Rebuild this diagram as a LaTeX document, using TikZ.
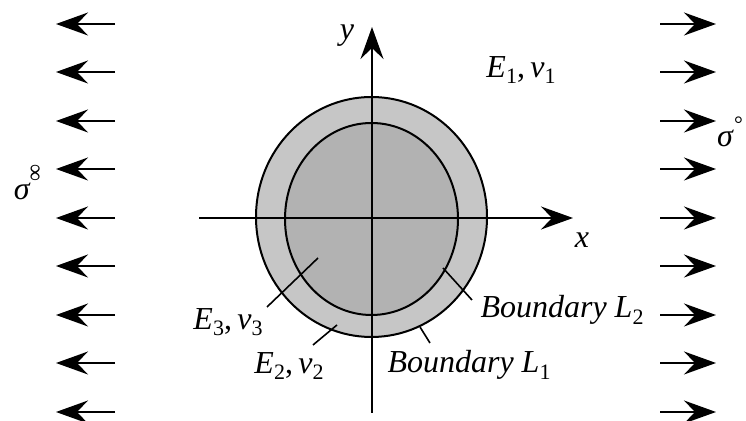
\documentclass[tikz,border=0pt]{standalone}
\usepackage{fontspec}
\setmainfont{Liberation Serif}
\usetikzlibrary{arrows.meta,shapes.geometric}
\newcommand\mysub[1]{\raisebox{-0.45ex}{\fontsize{11}{11}\selectfont\upshape #1}}
\newcommand\mysup[1]{\raisebox{1.0ex}{\fontsize{11}{11}\selectfont\upshape #1}}
\definecolor{ringgray}{HTML}{C6C6C6}
\definecolor{coregray}{HTML}{B2B2B2}
\tikzset{
  tip/.tip={Stealth[length=16pt,width=11.5pt,inset=5.5pt]},
  loadarrow/.style={line width=0.8pt,-tip},
  axisline/.style={line width=1pt,-tip},
  leader/.style={line width=0.8pt},
  lbl/.style={inner sep=1pt},
}
\begin{document}
\begin{tikzpicture}[x=0.5pt,y=-0.5pt,font=\fontsize{16}{19}\selectfont]
\useasboundingbox (0,0) rectangle (746,421);
% inclusions
\node[ellipse,draw,line width=1pt,fill=ringgray,minimum width=115.5pt,minimum height=120pt,inner sep=0pt] (outer) at (371.5,217) {};
\node[ellipse,draw,line width=1pt,fill=coregray,minimum width=86.5pt,minimum height=96pt,inner sep=0pt] (inner) at (371.5,219) {};
% axes
\coordinate (xs) at (199,218); \coordinate (xe) at (573,218);
\coordinate (ys) at (372,413); \coordinate (ye) at (372,27);
\draw[axisline] (xs) -- (xe);
\draw[axisline] (ys) -- (ye);
\node[lbl] (xl) at (582,240) {\textit{x}};
\node[lbl] (yl) at (347,36) {\textit{y}};
% load arrows
\foreach \i/\yy in {1/24,2/72,3/121,4/169,5/218,6/266,7/315,8/363,9/412}{
  \coordinate (lt\i) at (115,\yy); \coordinate (lh\i) at (56,\yy);
  \coordinate (rt\i) at (660,\yy); \coordinate (rh\i) at (716,\yy);
  \draw[loadarrow] (lt\i) -- (lh\i);
  \draw[loadarrow] (rt\i) -- (rh\i);
}
\node[lbl] (sl) at (28,182) {\textit{σ}\raisebox{1.2ex}{\rotatebox{90}{\fontsize{12}{12}\selectfont ∞}}};
\node[lbl] (sr) at (730,132) {\textit{σ}\mysup{°}};
% material labels
\node[lbl] (e1) at (521,70) {\textit{E}\mysub{1},\,\textit{ν}\mysub{1}};
\node[lbl] (e3) at (228,322) {\textit{E}\mysub{3},\,\textit{ν}\mysub{3}};
\node[lbl] (e2) at (289,366) {\textit{E}\mysub{2},\,\textit{ν}\mysub{2}};
\node[lbl] (b2) at (562,310) {\textit{Boundary L}\mysub{2}};
\node[lbl] (b1) at (469,365) {\textit{Boundary L}\mysub{1}};
% leaders
\coordinate (e3a) at (267,307); \coordinate (e3b) at (318,258);
\coordinate (e2a) at (313,345); \coordinate (e2b) at (337,325);
\coordinate (b1a) at (420,327); \coordinate (b1b) at (430,343);
\coordinate (b2a) at (443,268); \coordinate (b2b) at (472,300);
\draw[leader] (e3a) -- (e3b);
\draw[leader] (e2a) -- (e2b);
\draw[leader] (b1a) -- (b1b);
\draw[leader] (b2a) -- (b2b);
\end{tikzpicture}
\end{document}
